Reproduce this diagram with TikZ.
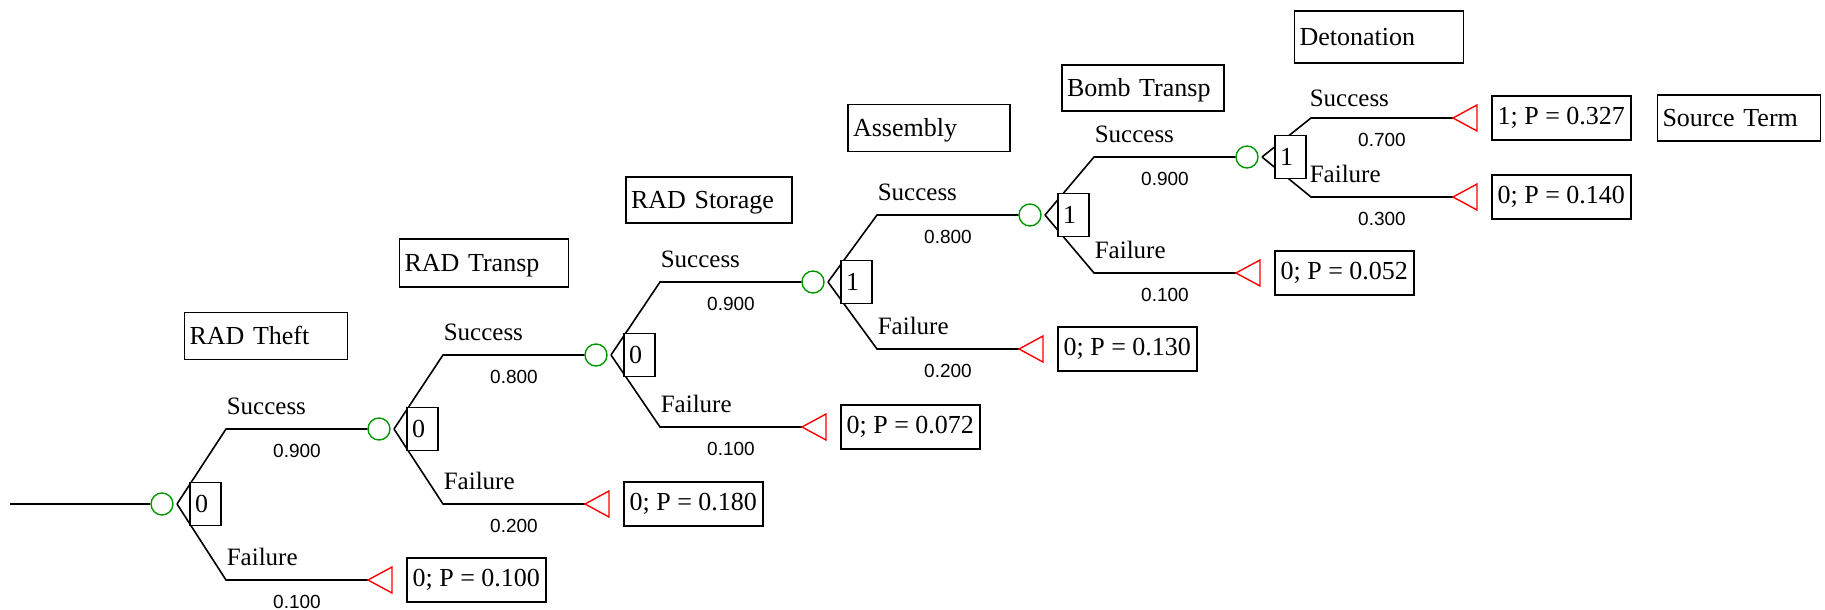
\documentclass[tikz,border=0pt]{standalone}
\usepackage{fontspec}
\setmainfont{Liberation Serif}
\newfontfamily\probfont{Liberation Sans}
\usetikzlibrary{shapes}
\definecolor{chancegreen}{RGB}{0,150,0}
\definecolor{endred}{RGB}{255,0,0}
\tikzset{
    chance/.style={draw=chancegreen,circle,minimum size=22pt,inner sep=0pt,line width=1.4pt},
    valbox/.style={draw,fill=white,rectangle,minimum height=43pt,text width=21pt,inner xsep=5pt,inner ysep=0pt,align=left,font=\fontsize{26pt}{30pt}\selectfont},
    endbox/.style={draw,rectangle,anchor=west,xshift=38pt,minimum height=44pt,minimum width=139pt,inner xsep=4pt,inner ysep=0pt,font=\fontsize{26pt}{30pt}\selectfont},
    endmark/.style={draw=endred,line width=1.4pt},
    hdr/.style={draw,rectangle,inner xsep=5pt,inner ysep=0pt,align=left,text height=17pt,text depth=0pt,font=\fontsize{26pt}{30pt}\selectfont},
    lbl/.style={anchor=base west,inner sep=0pt,font=\fontsize{25pt}{30pt}\selectfont},
    prob/.style={inner sep=0pt,font=\probfont\fontsize{19pt}{22pt}\selectfont}
}
\begin{document}
\begin{tikzpicture}[x=1pt,y=-1pt,line width=1.6pt]
        \useasboundingbox(0,0)rectangle(1825,610);
        % stage headers
        \node(theft)at(266,336)[hdr,text width=153pt,minimum height=47pt]{RAD Theft};
        \node(transp)at(484,263)[hdr,text width=159pt,minimum height=48pt]{RAD Transp};
        \node(storage)at(709,200)[hdr,text width=156pt,minimum height=46pt]{RAD Storage};
        \node(assembly)at(929,128)[hdr,text width=152pt,minimum height=47pt]{Assembly};
        \node(bomb)at(1143,88)[hdr,text width=152pt,minimum height=46pt]{Bomb Transp};
        \node(deton)at(1379,37)[hdr,text width=159pt,minimum height=52pt]{Detonation};
        \node(source)at(1739,118)[hdr,text width=153pt,minimum height=46pt]{Source Term};
        % chance nodes
        \node(c1)at(162,504)[chance]{};
        \node(c2)at(379,429)[chance]{};
        \node(c3)at(596,355)[chance]{};
        \node(c4)at(813,282)[chance]{};
        \node(c5)at(1030,215)[chance]{};
        \node(c6)at(1247,157)[chance]{};
        \coordinate(root)at(10,504);
        \coordinate(c1-a)at(177,504);
        \coordinate(c1-s)at(226,429);
        \coordinate(c1-f)at(226,580);
        \coordinate(c2-a)at(394,429);
        \coordinate(c2-s)at(443,355);
        \coordinate(c2-f)at(443,504);
        \coordinate(c3-a)at(611,355);
        \coordinate(c3-s)at(660,282);
        \coordinate(c3-f)at(660,427);
        \coordinate(c4-a)at(828,282);
        \coordinate(c4-s)at(877,215);
        \coordinate(c4-f)at(877,349);
        \coordinate(c5-a)at(1045,215);
        \coordinate(c5-s)at(1094,157);
        \coordinate(c5-f)at(1094,273);
        \coordinate(c6-a)at(1262,157);
        \coordinate(c6-s)at(1311,118);
        \coordinate(c6-f)at(1311,197);
        % terminal points
        \coordinate(t1)at(368,580);
        \coordinate(t2)at(585,504);
        \coordinate(t3)at(802,427);
        \coordinate(t4)at(1019,349);
        \coordinate(t5)at(1236,273);
        \coordinate(t6)at(1453,118);
        \coordinate(t7)at(1453,197);
        % branches
        \draw(root)--(c1);
        \draw(c1-a)--(c1-s)--(c2);
        \draw(c1-a)--(c1-f)--(t1);
        \draw(c2-a)--(c2-s)--(c3);
        \draw(c2-a)--(c2-f)--(t2);
        \draw(c3-a)--(c3-s)--(c4);
        \draw(c3-a)--(c3-f)--(t3);
        \draw(c4-a)--(c4-s)--(c5);
        \draw(c4-a)--(c4-f)--(t4);
        \draw(c5-a)--(c5-s)--(c6);
        \draw(c5-a)--(c5-f)--(t5);
        \draw(c6-a)--(c6-s)--(t6);
        \draw(c6-a)--(c6-f)--(t7);
        % value boxes
        \node(v1)at(205.5,504)[valbox]{0};
        \node(v2)at(422.5,429)[valbox]{0};
        \node(v3)at(639.5,355)[valbox]{0};
        \node(v4)at(856.5,282)[valbox]{1};
        \node(v5)at(1073.5,215)[valbox]{1};
        \node(v6)at(1290.5,157)[valbox]{1};
        % terminals
        \draw[endmark](t1)--++(24,-13)--++(0,26)--cycle;
        \draw[endmark](t2)--++(24,-13)--++(0,26)--cycle;
        \draw[endmark](t3)--++(24,-13)--++(0,26)--cycle;
        \draw[endmark](t4)--++(24,-13)--++(0,26)--cycle;
        \draw[endmark](t5)--++(24,-13)--++(0,26)--cycle;
        \draw[endmark](t6)--++(24,-13)--++(0,26)--cycle;
        \draw[endmark](t7)--++(24,-13)--++(0,26)--cycle;
        \node(e1)at(t1)[endbox]{0; P = 0.100};
        \node(e2)at(t2)[endbox]{0; P = 0.180};
        \node(e3)at(t3)[endbox]{0; P = 0.072};
        \node(e4)at(t4)[endbox]{0; P = 0.130};
        \node(e5)at(t5)[endbox]{0; P = 0.052};
        \node(e6)at(t6)[endbox]{1; P = 0.327};
        \node(e7)at(t7)[endbox]{0; P = 0.140};
        % branch labels
        \node(c1-sl)at(226,414)[lbl]{Success};
        \node(c1-fl)at(226,565)[lbl]{Failure};
        \node(c2-sl)at(443,340)[lbl]{Success};
        \node(c2-fl)at(443,489)[lbl]{Failure};
        \node(c3-sl)at(660,267)[lbl]{Success};
        \node(c3-fl)at(660,412)[lbl]{Failure};
        \node(c4-sl)at(877,200)[lbl]{Success};
        \node(c4-fl)at(877,334)[lbl]{Failure};
        \node(c5-sl)at(1094,142)[lbl]{Success};
        \node(c5-fl)at(1094,258)[lbl]{Failure};
        \node(c6-sl)at(1309,106)[lbl]{Success};
        \node(c6-fl)at(1309,182)[lbl]{Failure};
        \node(c1-sp)at(297,451)[prob]{0.900};
        \node(c1-fp)at(297,602)[prob]{0.100};
        \node(c2-sp)at(514,377)[prob]{0.800};
        \node(c2-fp)at(514,526)[prob]{0.200};
        \node(c3-sp)at(731,304)[prob]{0.900};
        \node(c3-fp)at(731,449)[prob]{0.100};
        \node(c4-sp)at(948,237)[prob]{0.800};
        \node(c4-fp)at(948,371)[prob]{0.200};
        \node(c5-sp)at(1165,179)[prob]{0.900};
        \node(c5-fp)at(1165,295)[prob]{0.100};
        \node(c6-sp)at(1382,140)[prob]{0.700};
        \node(c6-fp)at(1382,219)[prob]{0.300};
\end{tikzpicture}
\end{document}
